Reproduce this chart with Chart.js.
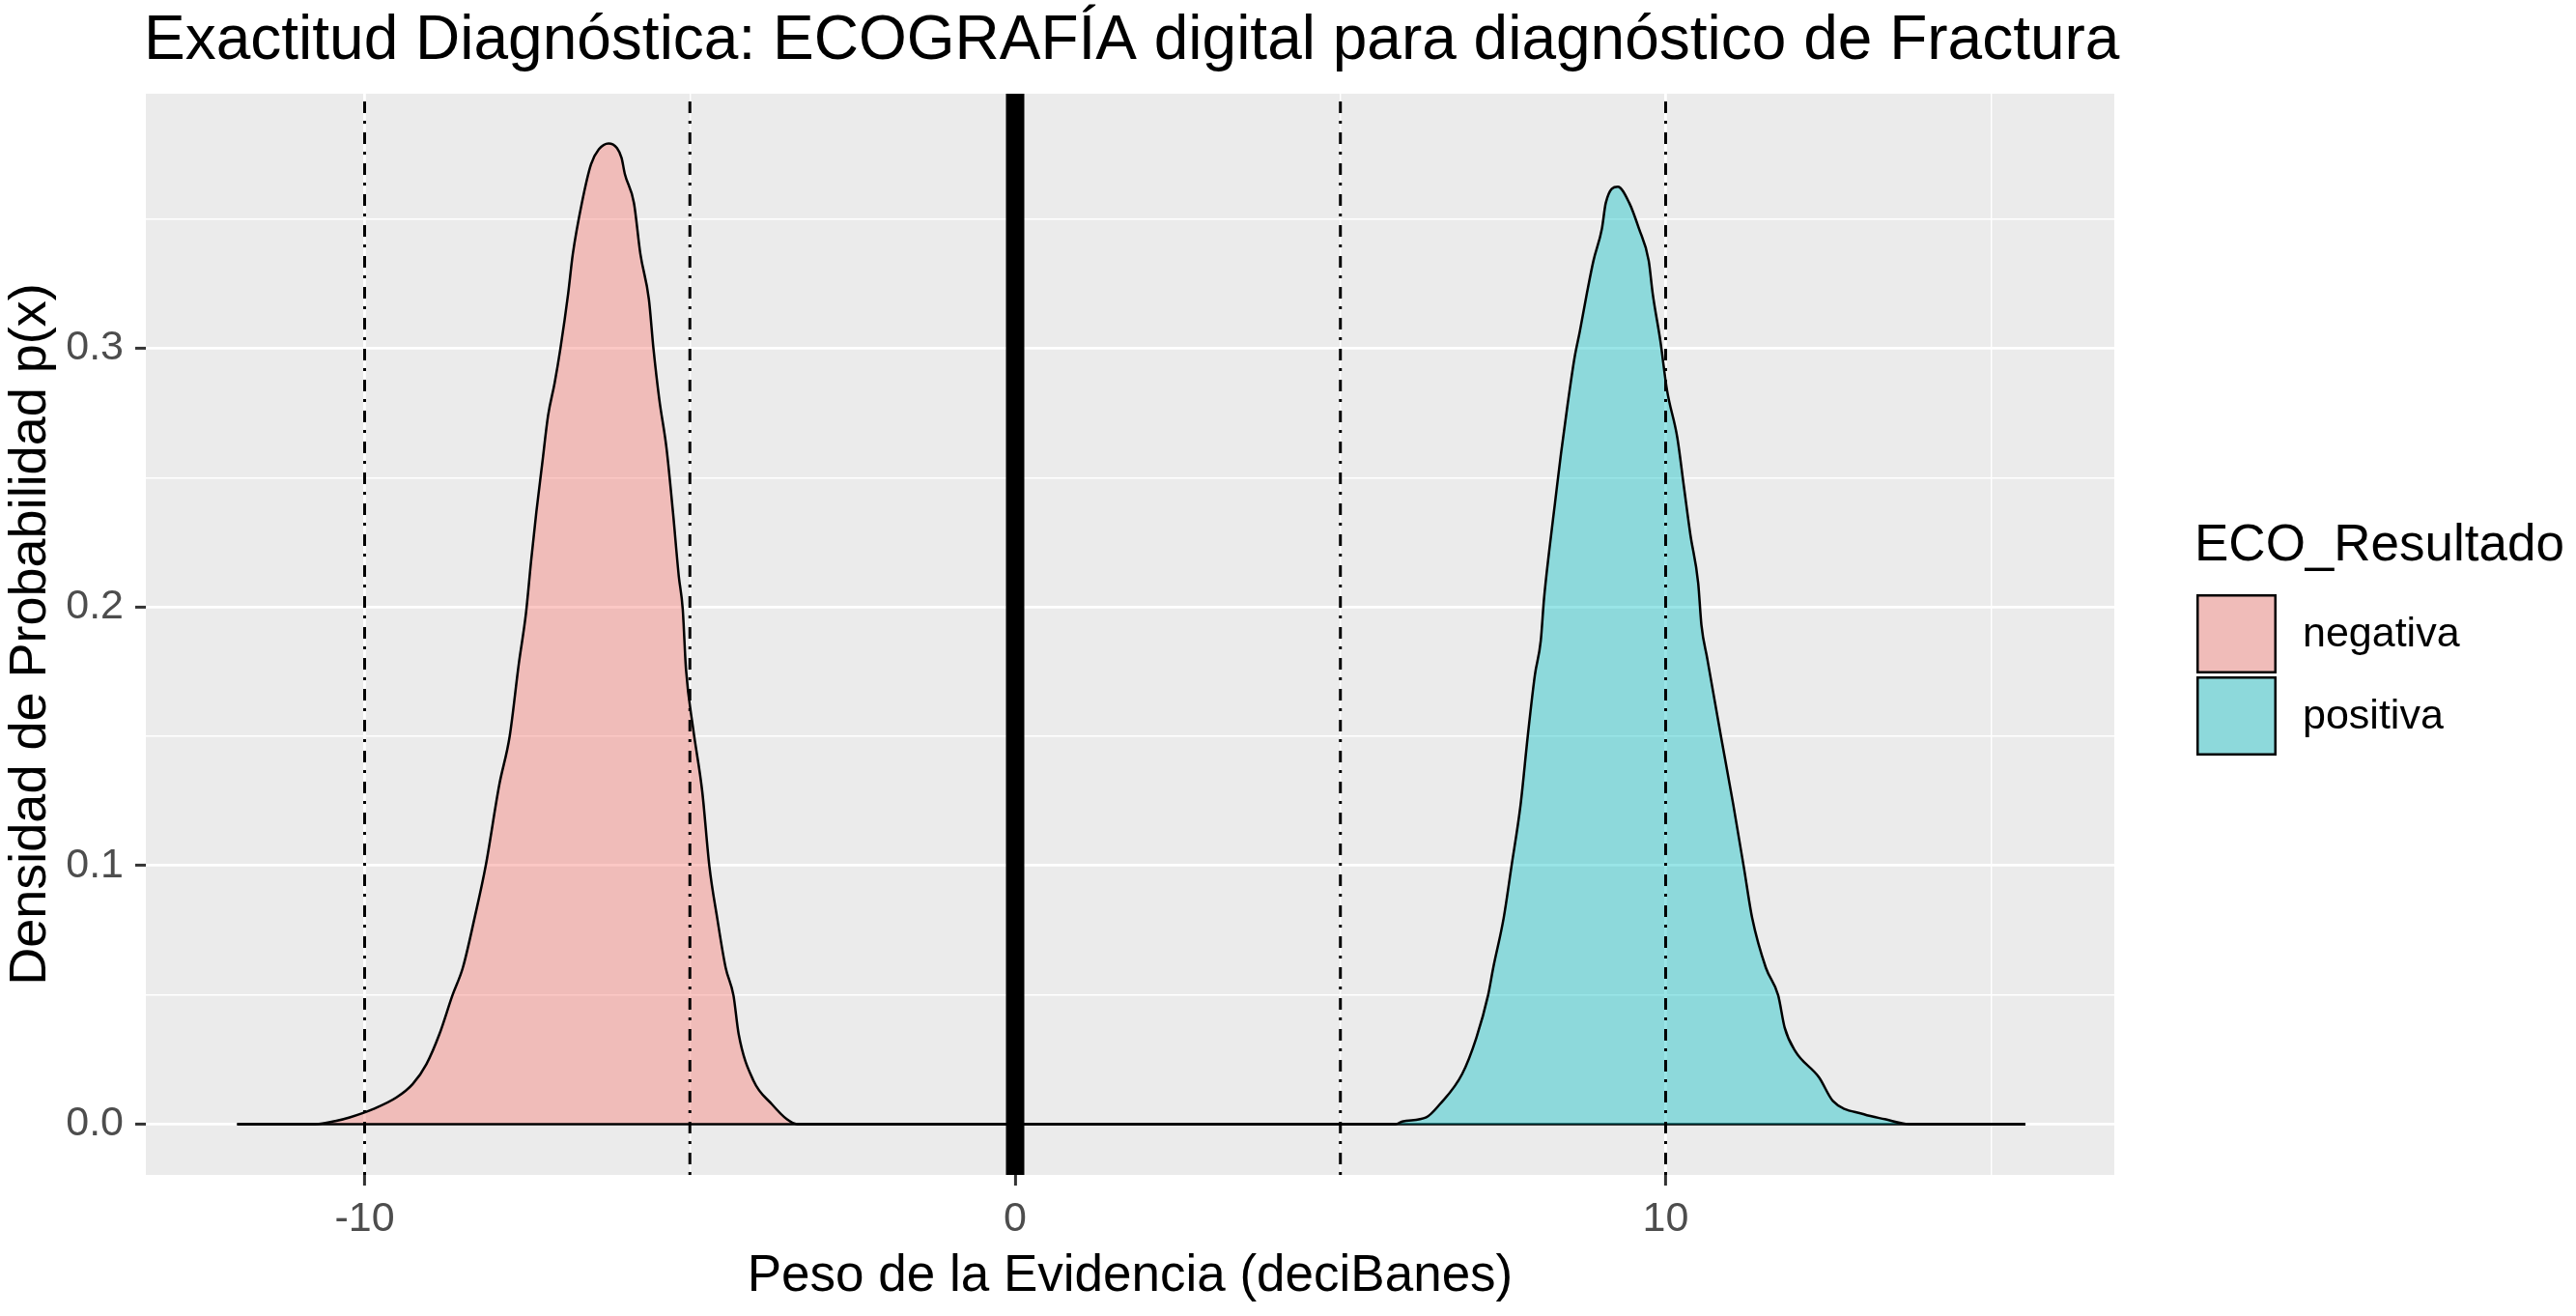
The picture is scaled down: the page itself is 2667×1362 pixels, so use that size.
<!DOCTYPE html>
<html>
<head>
<meta charset="utf-8">
<title>Exactitud Diagnóstica</title>
<script src="https://cdn.jsdelivr.net/npm/chart.js@4.4.1/dist/chart.umd.min.js"></script>
<style>
  html, body { margin: 0; padding: 0; background: #ffffff; }
  #chart { display: block; }
</style>
</head>
<body>
<canvas id="chart" width="2667" height="1362"></canvas>
<script>
// Density curves (x in deciBanes, y = density)
const negX = [-11.96, -10.75, -10.45, -10.23, -9.87, -9.51, -9.26, -9.05, -8.85, -8.65, -8.49, -8.31, -8.14, -7.93, -7.77, -7.63, -7.52, -7.44, -7.36, -7.27, -7.18, -7.08, -6.99, -6.87, -6.80, -6.66, -6.52, -6.40, -6.25, -6.12, -6.05, -6.00, -5.86, -5.76, -5.63, -5.56, -5.47, -5.36, -5.26, -5.17, -5.11, -5.06, -4.95, -4.81, -4.70, -4.58, -4.45, -4.33, -4.25, -4.02, -3.74, -3.51, -3.35, 15.53]
const negY = [0, 0, 0.0012, 0.0026, 0.0058, 0.0103, 0.0155, 0.0232, 0.0348, 0.0498, 0.0605, 0.0797, 0.0997, 0.1312, 0.150, 0.178, 0.1975, 0.218, 0.2367, 0.2554, 0.274, 0.2865, 0.300, 0.3214, 0.3364, 0.3563, 0.3712, 0.3770, 0.3793, 0.3775, 0.3737, 0.3675, 0.3563, 0.3364, 0.319, 0.300, 0.2803, 0.2616, 0.2367, 0.2118, 0.1993, 0.176, 0.153, 0.1287, 0.0997, 0.0797, 0.0605, 0.0498, 0.0348, 0.0167, 0.0077, 0.0019, 0, 0]

const posX = [-11.96, 5.85, 5.95, 6.32, 6.53, 6.87, 7.09, 7.27, 7.35, 7.51, 7.63, 7.77, 7.88, 7.99, 8.08, 8.13, 8.21, 8.30, 8.39, 8.49, 8.60, 8.68, 8.79, 8.89, 9.02, 9.08, 9.265, 9.44, 9.59, 9.74, 9.80, 9.92, 10.02, 10.18, 10.28, 10.38, 10.50, 10.55, 10.64, 10.85, 11.04, 11.20, 11.33, 11.54, 11.73, 11.83, 11.99, 12.36, 12.57, 13.05, 13.37, 13.74, 15.53]
const posY = [0, 0, 0.0010, 0.0026, 0.0077, 0.0193, 0.0334, 0.0498, 0.0605, 0.0797, 0.0997, 0.1235, 0.150, 0.1737, 0.1869, 0.2031, 0.2217, 0.2404, 0.2591, 0.2778, 0.2965, 0.3065, 0.3214, 0.3339, 0.3463, 0.3563, 0.3625, 0.3563, 0.3463, 0.3339, 0.3214, 0.3027, 0.284, 0.2654, 0.2467, 0.228, 0.2093, 0.193, 0.180, 0.150, 0.1235, 0.0997, 0.0797, 0.0605, 0.0498, 0.0373, 0.0283, 0.018, 0.009, 0.0038, 0.0019, 0, 0]

// Reference lines
const dashedLines = [-10, -5, 5, 10]
const zeroLine = 0

// Axes
const xTicks = [-10, -5, 0, 5, 10, 15]
const xLabelled = [-10, 0, 10]
const yTicks = [0, 0.05, 0.1, 0.15, 0.2, 0.25, 0.3, 0.35]
const yLabelled = [0, 0.1, 0.2, 0.3]
const xRange = [-13.363, 16.897]
const yRange = [-0.01966, 0.3985]

const groups = ['negativa', 'positiva']
const fills = ['rgba(248, 118, 109, 0.4)', 'rgba(0, 191, 196, 0.4)']

const FONT = '"Liberation Sans", Arial, sans-serif'
const isIn = (arr, v) => arr.some(a => Math.abs(a - v) < 1e-9)
const toPoints = (xs, ys) => xs.map((x, i) => ({ x: x, y: ys[i] }))
const vline = (x) => [{ x: x, y: yRange[0] }, { x: x, y: yRange[1] }]

const datasets = []
dashedLines.forEach(v => {
  datasets.push({
    data: vline(v),
    borderColor: '#000000',
    borderWidth: 3,
    borderDash: [3, 8, 12, 9],
    borderCapStyle: 'butt',
    pointRadius: 0,
    fill: false,
    order: 0,
    clip: 0
  })
})
datasets.push({
  data: vline(zeroLine),
  borderColor: '#000000',
  borderWidth: 19,
  borderCapStyle: 'butt',
  pointRadius: 0,
  fill: false,
  order: 0,
  clip: 0
})
datasets.push({
  label: groups[1],
  data: toPoints(posX, posY),
  borderColor: '#000000',
  borderWidth: 2.5,
  backgroundColor: fills[1],
  fill: 'origin',
  pointRadius: 0,
  cubicInterpolationMode: 'monotone',
  order: 1
})
datasets.push({
  label: groups[0],
  data: toPoints(negX, negY),
  borderColor: '#000000',
  borderWidth: 2.5,
  backgroundColor: fills[0],
  fill: 'origin',
  pointRadius: 0,
  cubicInterpolationMode: 'monotone',
  order: 2
})

// Grey panel behind the plot
const panelBackground = {
  id: 'panelBackground',
  beforeDraw(chart) {
    const { ctx, chartArea: a } = chart
    ctx.save()
    ctx.fillStyle = '#ffffff'
    ctx.fillRect(0, 0, chart.width, chart.height)
    ctx.fillStyle = '#EBEBEB'
    ctx.fillRect(a.left, a.top, a.right - a.left, a.bottom - a.top)
    ctx.restore()
  }
}

// Title aligned with the panel, legend on the right
const decorations = {
  id: 'decorations',
  afterDraw(chart) {
    const { ctx, chartArea: a } = chart
    ctx.save()
    ctx.fillStyle = '#000000'
    ctx.textBaseline = 'alphabetic'
    ctx.textAlign = 'left'
    ctx.font = '64px ' + FONT
    ctx.fillText('Exactitud Diagnóstica: ECOGRAFÍA digital para diagnóstico de Fractura', a.left - 2, 61)

    const lx = 2274
    ctx.font = '53px ' + FONT
    ctx.fillText('ECO_Resultado', lx - 2, 580)
    const keyTops = [615, 700]
    ctx.font = '43px ' + FONT
    groups.forEach((g, i) => {
      const top = keyTops[i]
      ctx.fillStyle = '#EBEBEB'
      ctx.fillRect(lx, top, 83, 82)
      ctx.fillStyle = fills[i]
      ctx.fillRect(lx, top, 83, 82)
      ctx.strokeStyle = '#000000'
      ctx.lineWidth = 2.5
      ctx.strokeRect(lx + 1.25, top + 1.25, 80.5, 79.5)
      ctx.fillStyle = '#000000'
      ctx.textBaseline = 'middle'
      ctx.fillText(g, 2384, top + 42)
    })
    ctx.restore()
  }
}

new Chart(document.getElementById('chart'), {
  type: 'line',
  data: { datasets: datasets },
  options: {
    responsive: false,
    devicePixelRatio: 1,
    animation: false,
    layout: { padding: { top: 97, right: 478, bottom: 0, left: 0 } },
    plugins: {
      legend: { display: false },
      title: { display: false },
      tooltip: { enabled: false }
    },
    scales: {
      x: {
        type: 'linear',
        min: xRange[0],
        max: xRange[1],
        afterBuildTicks: (scale) => { scale.ticks = xTicks.map(v => ({ value: v })) },
        afterFit: (scale) => { scale.height = 146 },
        border: { display: false },
        grid: {
          color: '#ffffff',
          lineWidth: (c) => isIn(xLabelled, c.tick.value) ? 2.8 : 1.4,
          tickColor: (c) => isIn(xLabelled, c.tick.value) ? '#333333' : 'rgba(0,0,0,0)',
          tickLength: 11,
          tickWidth: 3
        },
        ticks: {
          autoSkip: false,
          maxRotation: 0,
          padding: 9,
          color: '#4D4D4D',
          font: { family: FONT, size: 43 },
          callback: (v) => isIn(xLabelled, v) ? String(v) : ''
        },
        title: {
          display: true,
          text: 'Peso de la Evidencia (deciBanes)',
          color: '#000000',
          font: { family: FONT, size: 53 },
          padding: { top: 0, bottom: 9 }
        }
      },
      y: {
        type: 'linear',
        min: yRange[0],
        max: yRange[1],
        afterBuildTicks: (scale) => { scale.ticks = yTicks.map(v => ({ value: v })) },
        afterFit: (scale) => { scale.width = 151 },
        border: { display: false },
        grid: {
          color: '#ffffff',
          lineWidth: (c) => isIn(yLabelled, c.tick.value) ? 2.8 : 1.4,
          tickColor: (c) => isIn(yLabelled, c.tick.value) ? '#333333' : 'rgba(0,0,0,0)',
          tickLength: 11,
          tickWidth: 3
        },
        ticks: {
          autoSkip: false,
          padding: 12,
          color: '#4D4D4D',
          font: { family: FONT, size: 43 },
          callback: (v) => isIn(yLabelled, v) ? v.toFixed(1) : ''
        },
        title: {
          display: true,
          text: 'Densidad de Probabilidad p(x)',
          color: '#000000',
          font: { family: FONT, size: 54 },
          padding: { top: 0, bottom: 0 }
        }
      }
    }
  },
  plugins: [panelBackground, decorations]
})
</script>
</body>
</html>
